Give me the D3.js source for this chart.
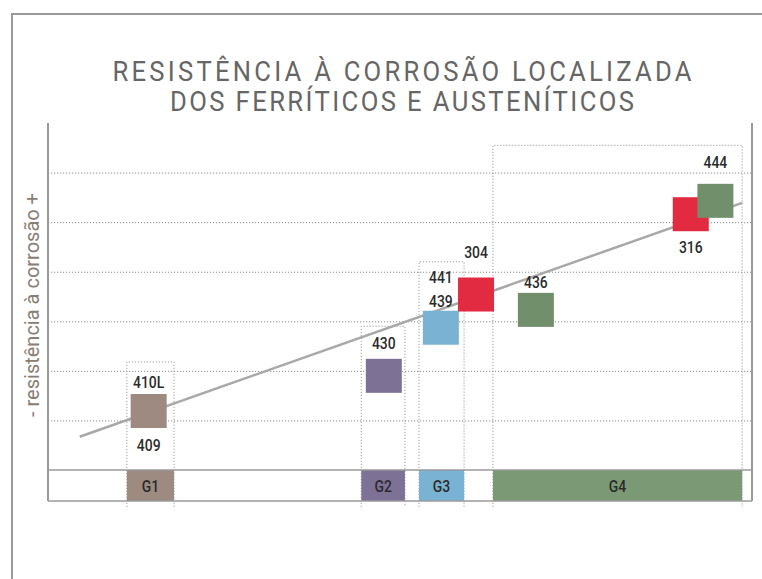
<!DOCTYPE html>
<html>
<head>
<meta charset="utf-8">
<script src="https://cdn.jsdelivr.net/npm/d3@7/dist/d3.min.js"></script>
<style>
  html, body { margin: 0; padding: 0; background: #fff; }
  svg { display: block; }
  text { font-family: Roboto, "Liberation Sans", sans-serif; }
</style>
</head>
<body>
<svg id="chart" width="762" height="579"></svg>
<script>
// ---------- data ----------
const titleLines = ["RESISTÊNCIA À CORROSÃO LOCALIZADA", "DOS FERRÍTICOS E AUSTENÍTICOS"];
const yAxisLabel = "- resistência à corrosão +";

const groups = ["G1", "G2", "G3", "G4"];
const groupStart = [11.2, 44.5, 52.7, 63.2];
const groupEnd = [17.9, 50.7, 59.1, 98.6];
const groupTop = [2.18, 2.9, 4.2, 6.55];

const steels = ["409/410L", "430", "439/441", "304", "436", "316", "444"];
const steelGroup = ["G1", "G2", "G3", "G4", "G4", "G4", "G4"];
const steelFamily = ["F", "F", "F", "A", "F", "A", "F"]; // F = ferrítico, A = austenítico
const steelPos = [14.3, 47.7, 55.8, 60.8, 69.3, 91.3, 94.8];
const steelResistance = [1.19, 1.90, 2.87, 3.54, 3.23, 5.16, 5.43];

const labelText = ["410L", "409", "430", "441", "439", "304", "436", "316", "444"];
const labelSteel = [0, 0, 1, 2, 2, 3, 4, 5, 6];

const trendX = [4.5, 98.6];
const trendY = [0.67, 5.39];

const yTicks = [1, 2, 3, 4, 5, 6];

// ---------- layout / style ----------
const labelDy = [-23, 40, -27, -44.5, -20.5, -36.5, -22, 39, -33];
const groupColor = { G1: "#9d8b82", G2: "#7e7196", G3: "#79b2d3", G4: "#7c9975" };
const squareColor = (i) => steelFamily[i] === "A" ? "#e22a40" :
  (steelGroup[i] === "G4" ? "#728f6b" : groupColor[steelGroup[i]]);

const svg = d3.select("#chart");
const plot = { left: 48, right: 752, top: 123, base: 470, bottom: 501 };

const x = d3.scaleLinear().domain([0, 100]).range([plot.left, plot.right]);
const y = d3.scaleLinear().domain([0, 7]).range([plot.base, plot.top]);

// condensed text helper
function condText(parent, cx, cy, str, size, fill, cond, weight, extra) {
  const g = parent.append("g").attr("transform", `translate(${cx},${cy}) scale(${cond},1)`);
  const t = g.append("text")
    .attr("x", 0).attr("y", 0)
    .attr("text-anchor", "middle")
    .attr("font-size", size)
    .attr("font-weight", weight)
    .attr("fill", fill)
    .text(str);
  if (extra) extra(t);
  return t;
}

// outer frame
svg.append("path")
  .attr("d", `M12,579 L12,14 L762,14`)
  .attr("fill", "none").attr("stroke", "#9a9a9a").attr("stroke-width", 2);

// title
const titleCond = 0.95;
titleLines.forEach((t, i) => {
  condText(svg, 402, 81 + i * 30, t, 27, "#666666", titleCond, 400, (el) => {
    el.attr("textLength", (i === 0 ? 579 : 464) / titleCond)
      .attr("lengthAdjust", "spacing");
  });
});

// y axis label
svg.append("text")
  .attr("transform", `translate(39,305) rotate(-90)`)
  .attr("text-anchor", "middle")
  .attr("font-size", 20)
  .attr("fill", "#8a7d73")
  .text(yAxisLabel);

// gridlines via axis
const grid = svg.append("g")
  .attr("transform", `translate(${plot.left},0)`)
  .call(d3.axisRight(y).tickValues(yTicks).tickSize(plot.right - plot.left).tickFormat(""));
grid.select(".domain").remove();
grid.selectAll(".tick line")
  .attr("stroke", "#8c8c8c").attr("stroke-width", 1).attr("stroke-dasharray", "1.2,1.8");

// group dotted boxes
groups.forEach((g, i) => {
  const x0 = x(groupStart[i]), x1 = x(groupEnd[i]), yt = y(groupTop[i]);
  svg.append("path")
    .attr("d", `M${x0},${plot.bottom + 6} L${x0},${yt} L${x1},${yt} L${x1},${plot.bottom + 6}`)
    .attr("fill", "none").attr("stroke", "#9a9a9a").attr("stroke-width", 1)
    .attr("stroke-dasharray", "1.2,1.8");
});

// band cells
groups.forEach((g, i) => {
  const x0 = x(groupStart[i]), x1 = x(groupEnd[i]);
  svg.append("rect")
    .attr("x", x0).attr("y", plot.base)
    .attr("width", x1 - x0).attr("height", plot.bottom - plot.base)
    .attr("fill", groupColor[g]);
  condText(svg, (x0 + x1) / 2, plot.base + 22, g, 17, "#2b2b2b", 0.82, 500);
});

// frame lines of plot
svg.append("line").attr("x1", plot.left).attr("x2", plot.right)
  .attr("y1", plot.base).attr("y2", plot.base)
  .attr("stroke", "#9a9a9a").attr("stroke-width", 1.6);
svg.append("line").attr("x1", plot.left).attr("x2", plot.right)
  .attr("y1", plot.bottom).attr("y2", plot.bottom)
  .attr("stroke", "#9a9a9a").attr("stroke-width", 1.6);
svg.append("line").attr("x1", plot.left).attr("x2", plot.left)
  .attr("y1", plot.top).attr("y2", plot.bottom)
  .attr("stroke", "#9a9a9a").attr("stroke-width", 2);
svg.append("line").attr("x1", plot.right).attr("x2", plot.right)
  .attr("y1", plot.top).attr("y2", plot.bottom)
  .attr("stroke", "#9a9a9a").attr("stroke-width", 2);

// trend line
svg.append("path")
  .datum(trendX.map((d, i) => [d, trendY[i]]))
  .attr("d", d3.line().x(d => x(d[0])).y(d => y(d[1])))
  .attr("fill", "none").attr("stroke", "#a8a8a8").attr("stroke-width", 2.5);

// squares
const sqW = 36, sqH = 34;
svg.append("g").selectAll("rect")
  .data(steels)
  .join("rect")
  .attr("x", (d, i) => x(steelPos[i]) - sqW / 2)
  .attr("y", (d, i) => y(steelResistance[i]) - sqH / 2)
  .attr("width", sqW).attr("height", sqH)
  .attr("fill", (d, i) => squareColor(i));

// labels
const lg = svg.append("g");
labelText.forEach((d, i) => {
  condText(lg, x(steelPos[labelSteel[i]]),
    y(steelResistance[labelSteel[i]]) + labelDy[i], d, 17, "#2b2b2b", 0.82, 500);
});
</script>
</body>
</html>
